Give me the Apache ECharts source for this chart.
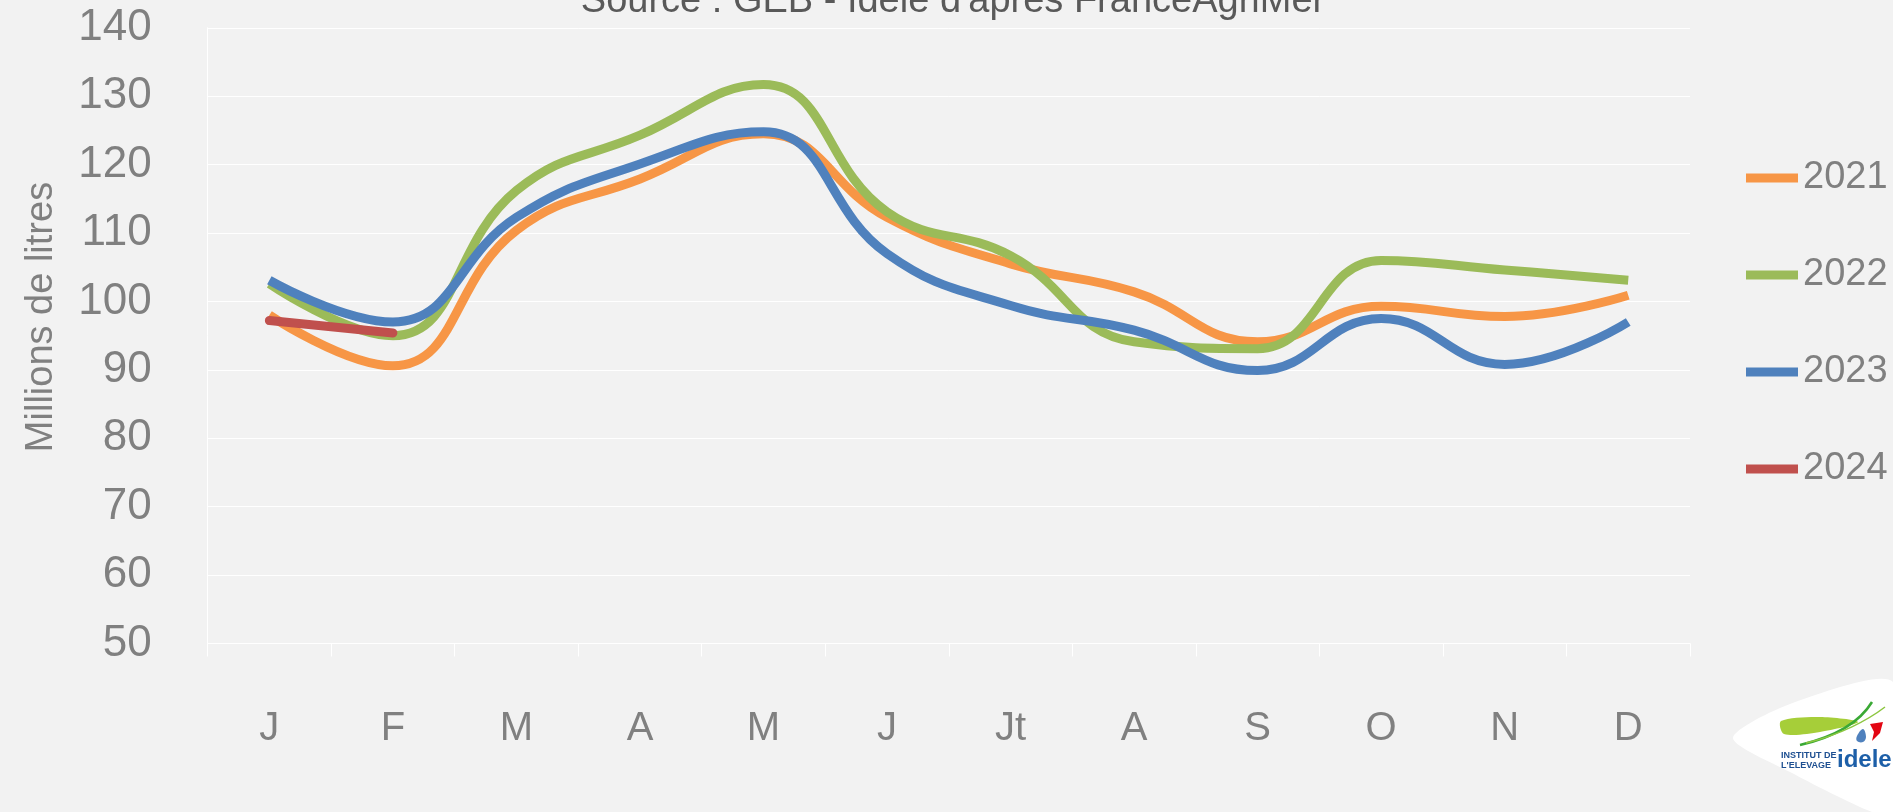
<!DOCTYPE html>
<html>
<head>
<meta charset="utf-8">
<title>Collecte de lait</title>
<script src="https://cdn.jsdelivr.net/npm/echarts@6.0.0/dist/echarts.min.js"></script>
<style>
  html, body { margin: 0; padding: 0; background: #f2f2f2; }
  #main { width: 1893px; height: 812px; }
</style>
</head>
<body>
<div id="main"></div>
<script>
var months = ['J', 'F', 'M', 'A', 'M', 'J', 'Jt', 'A', 'S', 'O', 'N', 'D'];
var yTicks = [50, 140, 10]; // min, max, interval

var years = ['2021', '2022', '2023', '2024'];
var data2021 = [98.0, 90.6, 110.4, 117.9, 124.5, 112.3, 105.5, 101.4, 94.1, 99.3, 97.8, 100.9];
var data2022 = [102.6, 95.0, 116.2, 124.3, 131.7, 113.1, 106.7, 94.1, 93.1, 106.0, 104.6, 103.1];
var data2023 = [103.1, 97.0, 112.3, 120.1, 124.8, 107.0, 99.4, 95.8, 89.9, 97.5, 90.8, 97.0];
var data2024 = [97.2, 95.4];

var colors = ['#f79646', '#9bbb59', '#4f81bd', '#c0504d'];
var grey = '#808080';
var font = '"Liberation Sans", Arial, sans-serif';

var myChart = echarts.init(document.querySelector('#main'));

function line(name, data, color, cap) {
    return {
        name: name,
        type: 'line',
        data: data,
        smooth: 0.45,
        symbol: 'none',
        showSymbol: false,
        color: color,
        lineStyle: { width: 9, color: color, cap: cap || 'butt' },
        emphasis: { disabled: true },
    };
}

var option = {
    backgroundColor: '#f2f2f2',
    animation: false,
    textStyle: { fontFamily: font },
    grid: {
        left: 207.6,
        right: 203,
        top: 27.8,
        bottom: 168.5,
        outerBoundsMode: 'none',
    },
    legend: {
        orient: 'vertical',
        left: 1741,
        top: 153,
        icon: 'rect',
        itemWidth: 52,
        itemHeight: 9,
        itemGap: 57,
        data: years,
        textStyle: { fontSize: 38, color: grey, lineHeight: 40, fontFamily: font },
        selectedMode: false,
    },
    xAxis: {
        type: 'category',
        data: months,
        boundaryGap: true,
        axisLine: { show: true, lineStyle: { color: '#ffffff', width: 1 } },
        axisTick: { show: true, length: 13, lineStyle: { color: '#ffffff' } },
        axisLabel: { fontSize: 40, color: grey, margin: 65, fontFamily: font },
        splitLine: { show: false },
    },
    yAxis: {
        type: 'value',
        min: yTicks[0],
        max: yTicks[1],
        interval: yTicks[2],
        axisLine: { show: true, lineStyle: { color: '#ffffff', width: 1 } },
        axisTick: { show: false },
        axisLabel: { fontSize: 44, color: grey, margin: 56, fontFamily: font },
        splitLine: { show: true, lineStyle: { color: '#ffffff', width: 1 } },
    },
    graphic: [
        { // source (cut at the top)
            type: 'text',
            x: 953,
            y: 2,
            style: {
                text: "Source : GEB - Idele d'après FranceAgriMer",
                font: '38px ' + font,
                fill: '#595959',
                align: 'center',
                verticalAlign: 'middle',
            },
        },
        { // axis name
            type: 'text',
            x: 42,
            y: 317,
            rotation: Math.PI / 2,
            style: {
                text: 'Millions de litres',
                font: '38px ' + font,
                fill: grey,
                align: 'center',
                verticalAlign: 'middle',
            },
        },
        // logo idele
        {
            type: 'polygon',
            shape: {
                points: [[1733, 738], [1790, 704], [1893, 682], [1893, 812], [1872, 812], [1790, 772]],
                smooth: 0.25,
            },
            style: { fill: '#ffffff' },
        },
        {
            type: 'polygon',
            shape: {
                points: [[1781, 721], [1820, 717], [1858, 722], [1820, 732], [1784, 734]],
                smooth: 0.3,
            },
            style: { fill: '#a6ce39' },
        },
        {
            type: 'bezierCurve',
            shape: { x1: 1800, y1: 745, cpx1: 1830, cpy1: 738, cpx2: 1858, cpy2: 725, x2: 1872, y2: 702 },
            style: { fill: null, stroke: '#3aa935', lineWidth: 2.5 },
        },
        {
            type: 'bezierCurve',
            shape: { x1: 1806, y1: 743, cpx1: 1840, cpy1: 735, cpx2: 1868, cpy2: 720, x2: 1885, y2: 707 },
            style: { fill: null, stroke: '#8cc63f', lineWidth: 1.5 },
        },
        {
            type: 'polygon',
            shape: { points: [[1870, 724], [1883, 722], [1880, 733], [1872, 741], [1874, 732]] },
            style: { fill: '#e30613' },
        },
        {
            type: 'polygon',
            shape: { points: [[1863, 729], [1866, 737], [1863, 742], [1857, 741], [1857, 736]], smooth: 0.4 },
            style: { fill: '#4f81bd' },
        },
        {
            type: 'text',
            x: 1781,
            y: 751,
            style: {
                text: 'INSTITUT DE\nL\'ELEVAGE',
                font: 'bold 9px "Liberation Sans Narrow", "Liberation Sans", sans-serif',
                fill: '#1d4f91',
                lineHeight: 10,
            },
        },
        {
            type: 'text',
            x: 1837,
            y: 748,
            style: {
                text: 'idele',
                font: 'bold 24px "Liberation Sans", sans-serif',
                fill: '#1d5fa8',
            },
        },
    ],
    series: [
        line(years[0], data2021, colors[0]),
        line(years[1], data2022, colors[1]),
        line(years[2], data2023, colors[2]),
        line(years[3], data2024, colors[3], 'round'),
    ],
};

myChart.setOption(option);
</script>
</body>
</html>
